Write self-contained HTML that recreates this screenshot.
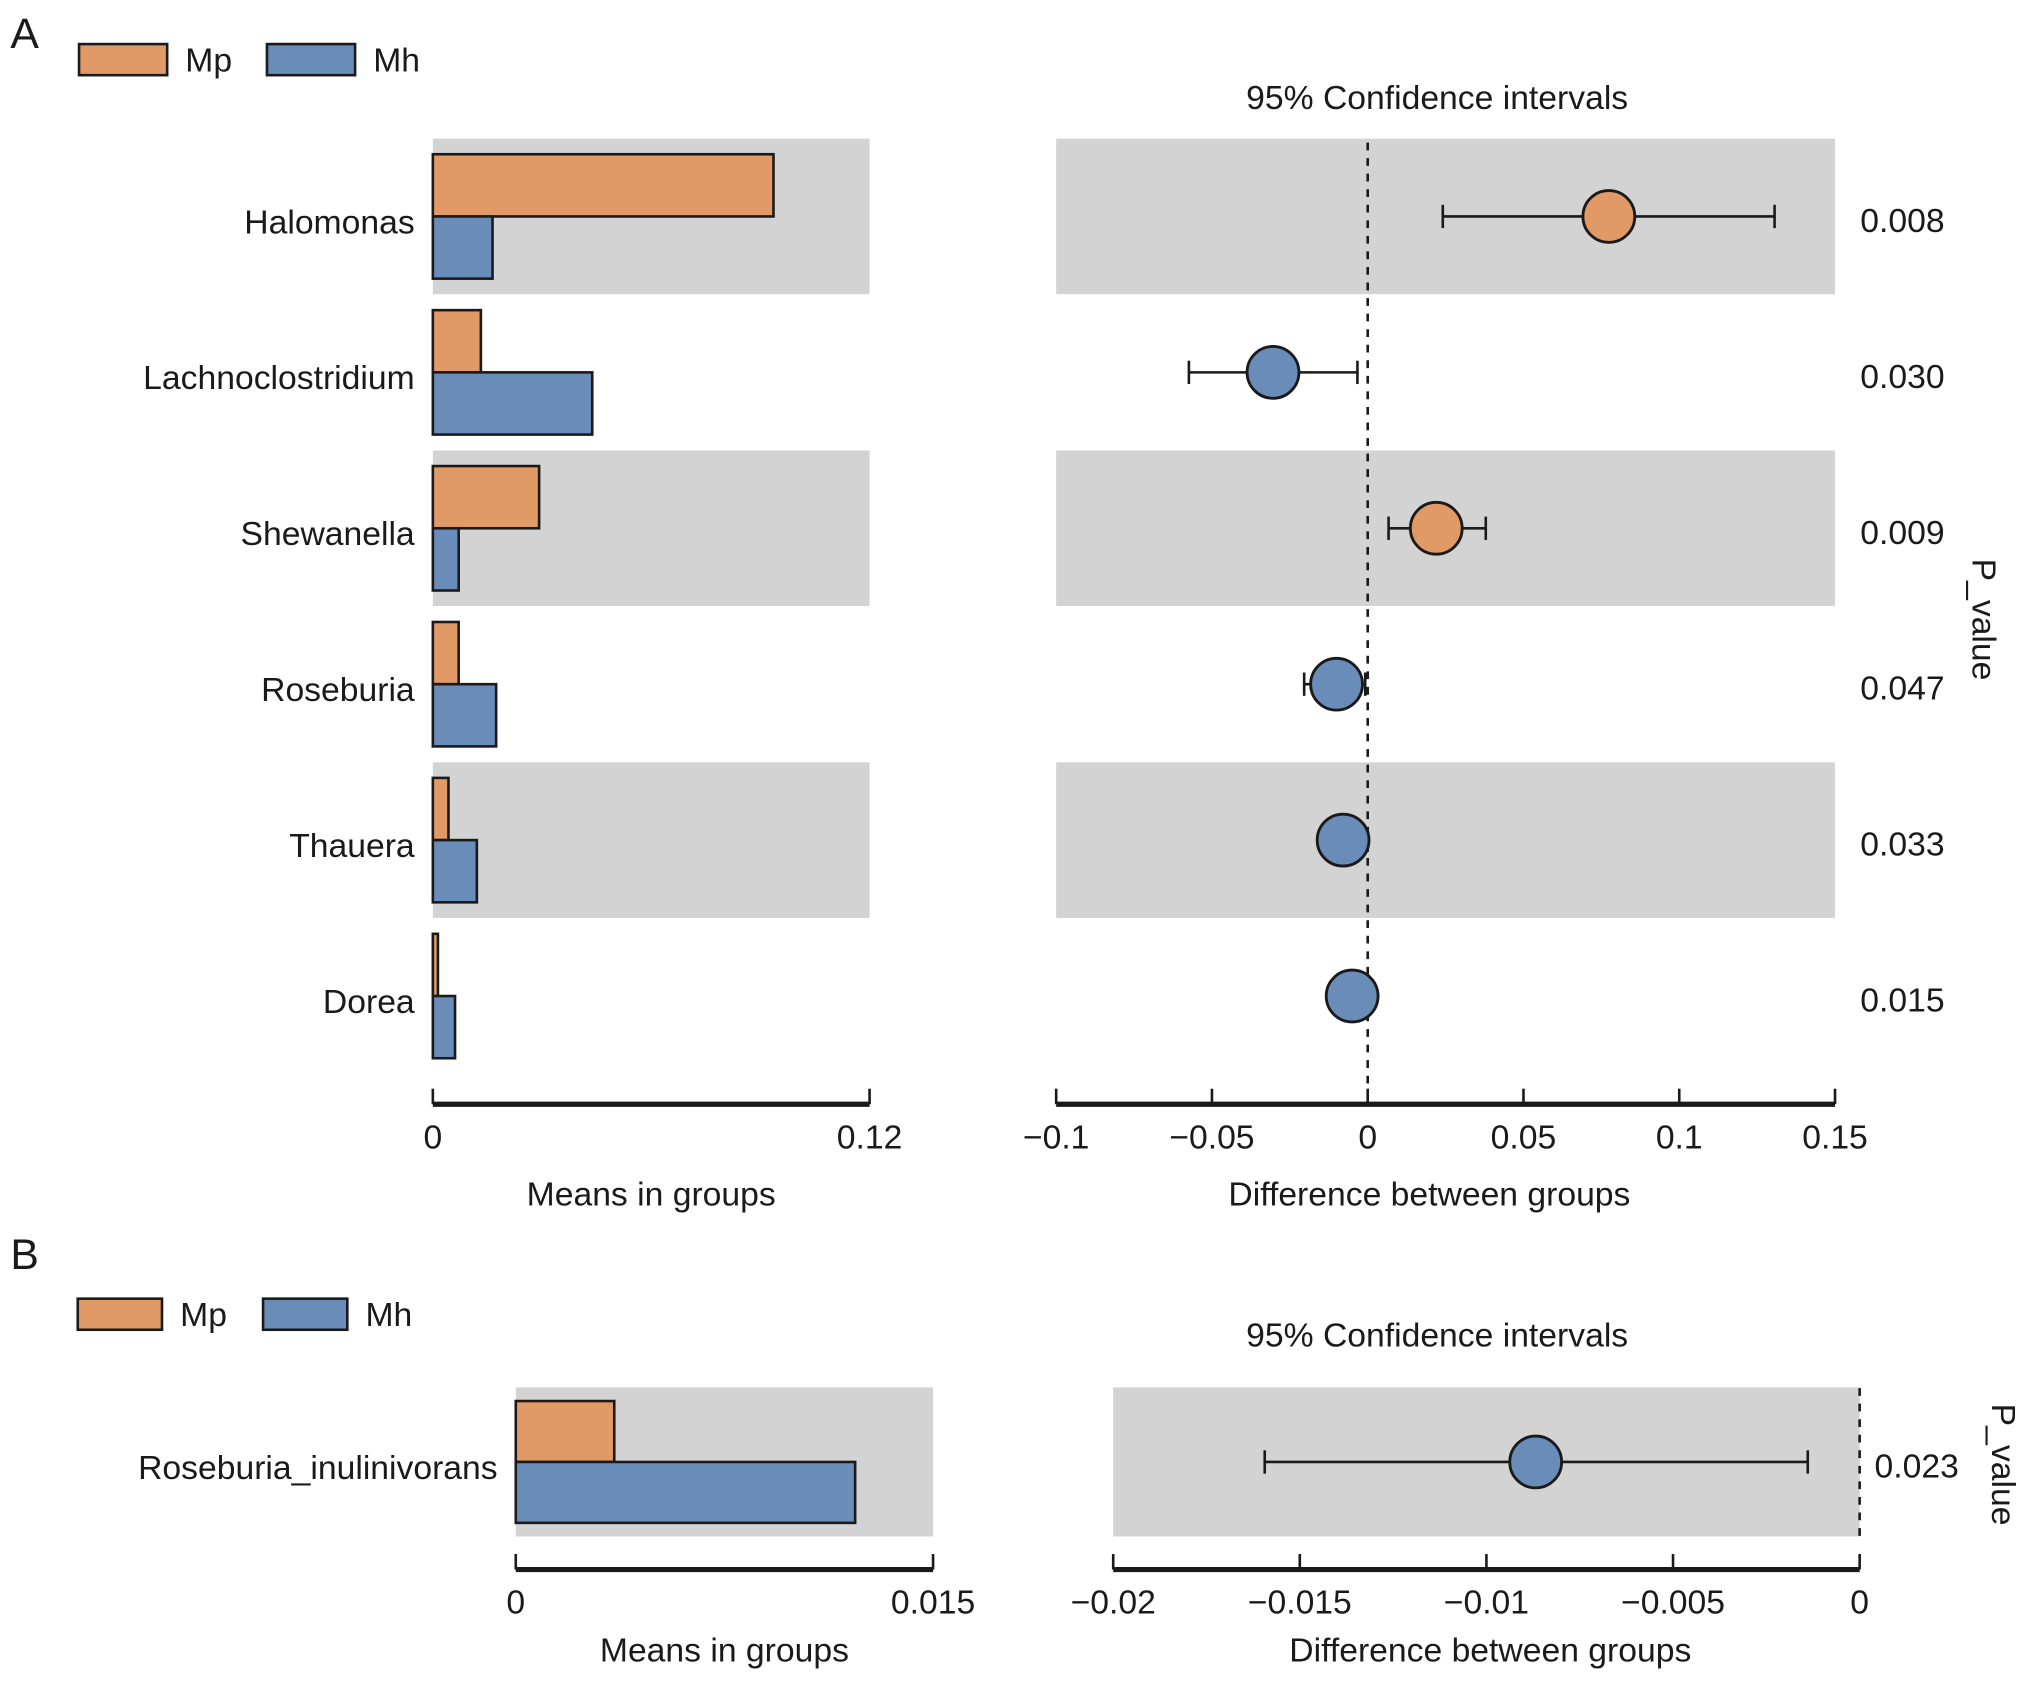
<!DOCTYPE html>
<html><head><meta charset="utf-8">
<style>
html,body{margin:0;padding:0;background:#fff;}
svg{display:block;font-family:"Liberation Sans",Arial,sans-serif;}
text{fill:#1a1a1a;}
</style></head>
<body>
<svg id="chart" width="2032" height="1681" viewBox="0 0 1568 1297" preserveAspectRatio="none" xmlns="http://www.w3.org/2000/svg">
<text x="8" y="37" font-size="33">A</text>
<text x="8" y="979" font-size="33">B</text>
<g id="legA"></g>
<g id="legB"></g>
<g id="marks"></g>
</svg>
<script>
// ---- Panel A data ----
const taxaA = ["Halomonas","Lachnoclostridium","Shewanella","Roseburia","Thauera","Dorea"];
const mpMeansA = [0.0936,0.0132,0.0292,0.0071,0.0043,0.0014];
const mhMeansA = [0.0164,0.0438,0.0071,0.0174,0.0121,0.0061];
const diffA = [0.0774,-0.0304,0.022,-0.01,-0.0079,-0.005];
const ciLowA = [0.0241,-0.0574,0.0067,-0.0204,-0.0154,-0.0087];
const ciHighA = [0.1306,-0.0033,0.0379,-0.0008,0,-0.0004];
const pvalA = ["0.008","0.030","0.009","0.047","0.033","0.015"];
const meansTicksA = [0,0.12];
const meansTickLabelsA = ["0","0.12"];
const diffTicksA = [-0.1,-0.05,0,0.05,0.1,0.15];
const diffTickLabelsA = ["\u22120.1","\u22120.05","0","0.05","0.1","0.15"];
// ---- Panel B data ----
const taxaB = ["Roseburia_inulinivorans"];
const mpMeansB = [0.00354];
const mhMeansB = [0.0122];
const diffB = [-0.00868];
const ciLowB = [-0.01594];
const ciHighB = [-0.00139];
const pvalB = ["0.023"];
const meansTicksB = [0,0.015];
const meansTickLabelsB = ["0","0.015"];
const diffTicksB = [-0.02,-0.015,-0.01,-0.005,0];
const diffTickLabelsB = ["\u22120.02","\u22120.015","\u22120.01","\u22120.005","0"];

const NS="http://www.w3.org/2000/svg";
const ORANGE="#e19a66", BLUE="#6a8cb9", GRAY="#d3d3d3", INK="#1a1a1a";
const FS=26;
const root=document.getElementById('marks');
function mk(tag,attrs,parent){const e=document.createElementNS(NS,tag);for(const k in attrs)e.setAttribute(k,attrs[k]);(parent||root).appendChild(e);return e;}
function txt(x,y,s,size,anchor,parent){const t=mk('text',{x:x,y:y,'font-size':size,'text-anchor':anchor||'start'},parent);t.textContent=s;return t;}
function lin(d0,d1,r0,r1){return v=>r0+(v-d0)/(d1-d0)*(r1-r0);}

function legend(g,y,x1,x2,w){
  const r1=mk('rect',{x:x1,y:y,width:w,height:24,fill:ORANGE,stroke:INK,'stroke-width':2},g);
  
  
  const t1=txt(x1+w+14,y+21,"Mp",FS,'start',g);
  
  
  const r2=mk('rect',{x:x2,y:y,width:w,height:24,fill:BLUE,stroke:INK,'stroke-width':2},g);
  
  
  const t2=txt(x2+w+14,y+21,"Mh",FS,'start',g);
  
  
}
legend(document.getElementById('legA'),34,61,206,68);
legend(document.getElementById('legB'),1002,60,203,65);

function panel(o){
  const xm=lin(0,o.meansMax,o.mx0,o.mx1);
  const xd=lin(o.dMin,o.dMax,o.dx0,o.dx1);
  const n=o.taxa.length;
  for(let i=0;i<n;i++){
    const cy=o.cy0+i*o.step;
    if(i%2===0){
      const b1=mk('rect',{x:o.mx0,y:cy-o.band/2,width:o.mx1-o.mx0,height:o.band,fill:GRAY});
      
      
      const b2=mk('rect',{x:o.dx0,y:cy-o.band/2,width:o.dx1-o.dx0,height:o.band,fill:GRAY});
      
      
    }
  }
  for(let i=0;i<n;i++){
    const cy=o.cy0+i*o.step;
    const lab=txt(o.mx0-14,cy+13,o.taxa[i],FS,'end');
    
    
    const bm=mk('rect',{x:xm(0),y:cy-o.bh,width:Math.max(xm(o.mp[i])-xm(0),0.5),height:o.bh,fill:ORANGE,stroke:INK,'stroke-width':2});
    
    
    const bh=mk('rect',{x:xm(0),y:cy,width:Math.max(xm(o.mh[i])-xm(0),0.5),height:o.bh,fill:BLUE,stroke:INK,'stroke-width':2});
    
    
    const pv=txt(o.px,cy+12,o.p[i],FS,'middle');
    
    
  }
  const zl=mk('line',{x1:xd(0),x2:xd(0),y1:o.zy0,y2:o.zy1,stroke:INK,'stroke-width':2,'stroke-dasharray':'6,6'});
  
  
  for(let i=0;i<n;i++){
    const cy=o.cy0+i*o.step;
    const g=mk('g',{});
    
    
    mk('line',{x1:xd(o.lo[i]),x2:xd(o.hi[i]),y1:cy,y2:cy,stroke:INK,'stroke-width':2},g);
    mk('line',{x1:xd(o.lo[i]),x2:xd(o.lo[i]),y1:cy-9,y2:cy+9,stroke:INK,'stroke-width':2},g);
    mk('line',{x1:xd(o.hi[i]),x2:xd(o.hi[i]),y1:cy-9,y2:cy+9,stroke:INK,'stroke-width':2},g);
    mk('circle',{cx:xd(o.d[i]),cy:cy,r:20,fill:o.d[i]>0?ORANGE:BLUE,stroke:INK,'stroke-width':2.2},g);
  }
  const ax1=mk('g',{});
  
  
  mk('line',{x1:o.mx0,x2:o.mx1,y1:o.axY,y2:o.axY,stroke:INK,'stroke-width':4},ax1);
  o.mTicks.forEach((v,k)=>{mk('line',{x1:xm(v),x2:xm(v),y1:o.axY,y2:o.axY-12,stroke:INK,'stroke-width':2},ax1);txt(xm(v),o.axY+34,o.mLabels[k],FS,'middle',ax1);});
  const ax2=mk('g',{});
  
  
  mk('line',{x1:o.dx0,x2:o.dx1,y1:o.axY,y2:o.axY,stroke:INK,'stroke-width':4},ax2);
  o.dTicks.forEach((v,k)=>{mk('line',{x1:xd(v),x2:xd(v),y1:o.axY,y2:o.axY-12,stroke:INK,'stroke-width':2},ax2);txt(xd(v),o.axY+34,o.dLabels[k],FS,'middle',ax2);});
  const t1=txt((o.mx0+o.mx1)/2,o.xlabY,"Means in groups",FS,'middle');
  
  
  const t2=txt(o.dlabX,o.xlabY,"Difference between groups",FS,'middle');
  
  
  const t3=txt(1109,o.titleY,"95% Confidence intervals",FS,'middle');
  
  
  const t4=txt(0,0,"P_value",FS,'middle');
  t4.setAttribute('transform','translate('+o.pvX+','+o.pvY+') rotate(90)');
  
  
}

panel({taxa:taxaA,mp:mpMeansA,mh:mhMeansA,d:diffA,lo:ciLowA,hi:ciHighA,p:pvalA,
  meansMax:0.12,mx0:334,mx1:671,dMin:-0.1,dMax:0.15,dx0:815,dx1:1416,
  cy0:167,step:120.3,band:120,bh:48,px:1468,zy0:110,zy1:852,axY:852,xlabY:930,titleY:84,
  dlabX:1103,pvX:1522,pvY:478,
  mTicks:meansTicksA,mLabels:meansTickLabelsA,dTicks:diffTicksA,dLabels:diffTickLabelsA});
panel({taxa:taxaB,mp:mpMeansB,mh:mhMeansB,d:diffB,lo:ciLowB,hi:ciHighB,p:pvalB,
  meansMax:0.015,mx0:398,mx1:720,dMin:-0.02,dMax:0,dx0:859,dx1:1435,
  cy0:1128,step:0,band:115,bh:47,px:1479,zy0:1071,zy1:1186,axY:1211,xlabY:1282,titleY:1039,
  dlabX:1150,pvX:1537,pvY:1130,
  mTicks:meansTicksB,mLabels:meansTickLabelsB,dTicks:diffTicksB,dLabels:diffTickLabelsB});
</script>
</body></html>
